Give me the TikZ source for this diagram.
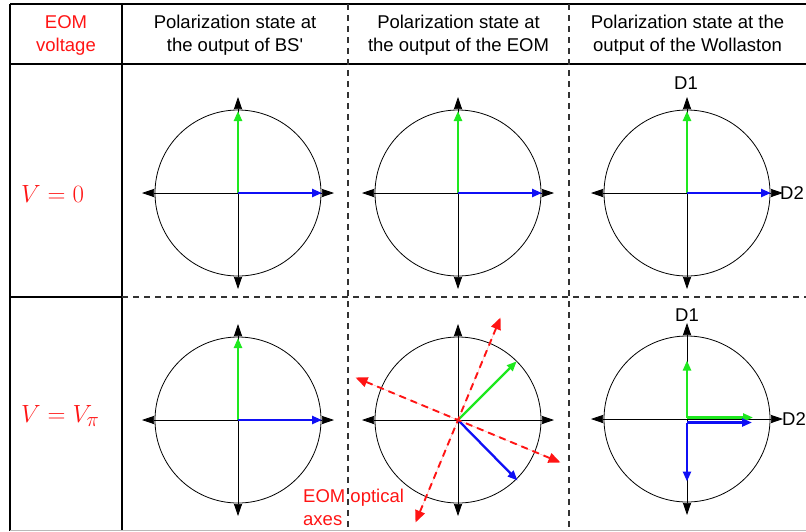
\documentclass[tikz,border=0pt]{standalone}
\usepackage[no-math]{fontspec}
\setmainfont{Liberation Sans}
\usetikzlibrary{arrows.meta,calc}
\definecolor{polgreen}{RGB}{30,232,30}
\definecolor{polblue}{RGB}{15,15,245}
\definecolor{axred}{RGB}{255,20,20}
\definecolor{rulegray}{HTML}{333333}
\tikzset{
  rule/.style={line width=1.7pt, draw=black},
  dashrule/.style={line width=1.2pt, draw=rulegray, dash pattern=on 6pt off 5pt},
  hdr/.style={align=center, inner sep=0pt, font=\fontsize{18.5}{23}\selectfont},
  lbl/.style={inner sep=0pt, font=\fontsize{18.5}{23}\selectfont},
  mathlbl/.style={inner sep=0pt, anchor=west, text=axred, font=\fontsize{31}{36}\selectfont},
  ring/.style={line width=0.8pt, draw=black},
  axis/.style={line width=0.7pt, {Triangle[length=12pt,width=8pt]}-{Triangle[length=12pt,width=8pt]}},
  pol/.style={line width=2.3pt, -{Triangle[length=10pt,width=8pt]}},
  oaxis/.style={line width=1.9pt, draw=axred, fill=axred, dash pattern=on 7pt off 5pt,
                {Triangle[length=12pt,width=10pt]}-{Triangle[length=12pt,width=10pt]}}}
\newcommand{\polring}[1]{%
  \draw[ring] (#1) circle (83pt);
  \draw[axis] ($(#1)+(-96,0)$) -- ($(#1)+(96,0)$);
  \draw[axis] ($(#1)+(0,96)$) -- ($(#1)+(0,-96)$);}
\begin{document}
\begin{tikzpicture}[x=1pt, y=-1pt]
  \useasboundingbox (0,0) rectangle (806,531);
  % table
  \draw[rule] (10,4) -- (806,4);
  \draw[rule] (10,64) -- (806,64);
  \draw[rule] (10,4) -- (10,531);
  \draw[rule] (122,4) -- (122,531);
  \draw[rule] (10,297) -- (122,297);
  \draw[dashrule] (122,297) -- (806,297);
  \draw[dashrule] (348,4) -- (348,531);
  \draw[dashrule] (569,4) -- (569,531);
  \draw[gray!55, line width=1pt] (10,530.5) -- (806,530.5);
  % headers
  \node[hdr, text=axred] (hvolt) at (66,35) {EOM\\voltage};
  \node[hdr] (hbs) at (235,35) {Polarization state at\\the output of BS\textquotesingle};
  \node[hdr] (heom) at (458.5,35) {Polarization state at\\the output of the EOM};
  \node[hdr] (hwol) at (687.5,35) {Polarization state at the\\output of the Wollaston};
  \node[mathlbl] (vzero) at (21,194) {$V=0$};
  \node[mathlbl] (vpi) at (21,416) {$V=V_\pi$};
  % centres
  \coordinate (c11) at (238,193);
  \coordinate (c12) at (458,193);
  \coordinate (c13) at (687,193);
  \coordinate (c21) at (238,420);
  \coordinate (c22) at (458,420);
  \coordinate (c23) at (687,419);
  \foreach \c in {c11,c12,c13,c21,c22,c23}
    \polring{\c};
  % V = 0
  \foreach \c in {c11,c12,c13}{
    \draw[pol, polgreen] (\c) -- ($(\c)+(0,-82)$);
    \draw[pol, polblue] (\c) -- ($(\c)+(84,0)$);
  }
  \node[lbl] (d1top) at (686,83) {D1};
  \node[lbl, anchor=west] (d2top) at (780,193) {D2};
  % V = V_pi
  \draw[pol, polgreen] (c21) -- ($(c21)+(0,-82)$);
  \draw[pol, polblue] (c21) -- ($(c21)+(84,0)$);
  \draw[pol, polgreen] (c22) -- ($(c22)+(58.7,-58.7)$);
  \draw[pol, polblue] (c22) -- ($(c22)+(59.5,60.5)$);
  \draw[oaxis] ($(c22)+(-102.5,-42.5)$) -- ($(c22)+(102.5,42.5)$);
  \draw[oaxis] ($(c22)+(-42.5,102.5)$) -- ($(c22)+(42.5,-102.5)$);
  \node[lbl, text=axred, align=left, anchor=north west] (oaxes) at (303,488.5) {EOM optical\\axes};
  \coordinate (g0) at ($(c23)+(0,-1.5)$);
  \coordinate (b0) at ($(c23)+(0,3.5)$);
  \draw[pol, polgreen] (g0) -- ++(66,0);
  \draw[pol, polgreen] (g0) -- ++(0,-57);
  \draw[pol, polblue] (b0) -- ++(65,0);
  \draw[pol, polblue] (b0) -- ++(0,59);
  \node[lbl] (d1bot) at (687,315) {D1};
  \node[lbl, anchor=west] (d2bot) at (782,419) {D2};
\end{tikzpicture}
\end{document}
